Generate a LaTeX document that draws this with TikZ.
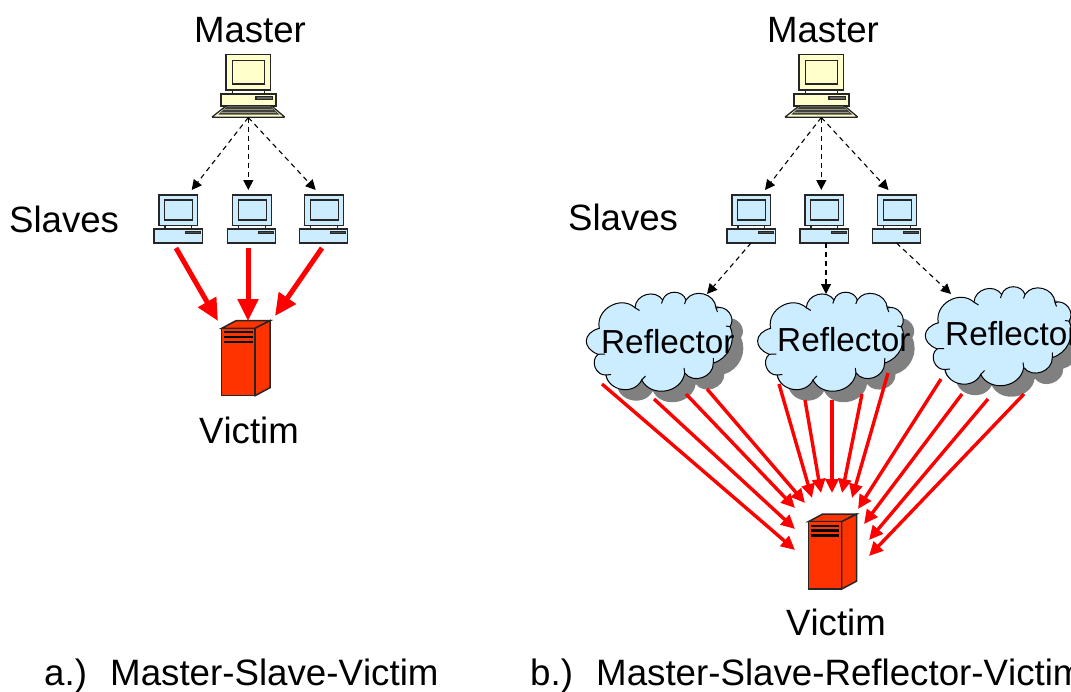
\documentclass[tikz,border=0pt]{standalone}
\usepackage{fontspec}
\setmainfont[Kerning=Off]{Liberation Sans}
\usetikzlibrary{arrows.meta}

\definecolor{pcyellow}{HTML}{FFFFCC}
\definecolor{pcblue}{HTML}{CCECFF}
\definecolor{srvred}{HTML}{FF3300}

\newcommand{\cloudshape}{(-60.7,-16.7) to[lobe] (-25,-37.3) to[lobe] (2.7,-45)
  to[lobe] (26,-45) to[lobe] (56,-37) to[lobe] (70,-18.3)
  to[bend left=50] (53.3,18) to[lobe] (24.7,28) to[lobe] (-18.3,35)
  to[lobe] (-54,30) to[lobe] (-62,9.3) to[lobe,looseness=1.7] cycle}

\tikzset{
  lobe/.style={bend left=72,looseness=1.2},
  lbl/.style={font=\fontsize{36.6}{40}\selectfont,inner sep=0pt,anchor=base},
  captxt/.style={font=\fontsize{36.7}{40}\selectfont,inner sep=0pt,anchor=base west},
  refl/.style={font=\fontsize{33.3}{40}\selectfont,inner sep=0pt,anchor=base west},
  dasharrow/.style={line width=1.1pt,dash pattern=on 5pt off 4pt,-{Triangle[length=10pt,width=10pt]}},
  thickred/.style={red,line width=5pt,-{Triangle[length=22pt,width=20pt]}},
  thinred/.style={red,line width=3.4pt,-{Triangle[length=14pt,width=13pt]}},
  pc/.style={draw=black!85,line width=1.3pt},
  master/.pic={
    \draw[pc,fill=pcyellow] (-22.3,-39.3) rectangle (22.3,-4);
    \draw[pc,fill=pcyellow] (-15.6,-33.3) rectangle (16,-10);
    \draw[pc] (-15.6,-4) -- (-15.6,0) (16,-4) -- (16,0);
    \draw[pc,fill=pcyellow] (-27.3,0) rectangle (27.7,12);
    \draw[pc,fill=black!60] (7.7,2.7) rectangle (24.4,5.3);
    \draw[pc,fill=pcyellow,rounded corners=1pt] (-22.3,12) -- (23.4,12) -- (36.7,23.3) -- (-36.6,23.3) -- cycle;
    \fill[black!75] (-21.5,12.5) -- (22.5,12.5) -- (31,20.5) -- (-30,20.5) -- cycle;
    \draw[pcyellow!60!black,line width=.6pt] (-24,15.5) -- (25,15.5) (-27,18) -- (28,18);
    \coordinate (-out) at (0,23.5);
  },
  slave/.pic={
    \draw[pc,fill=pcblue] (-19,-34) rectangle (19.7,-3.4);
    \draw[pc,fill=pcblue] (-13.3,-29) rectangle (14.7,-9);
    \draw[pc] (-13,-3.4) -- (-13,0) (13.7,-3.4) -- (13.7,0);
    \draw[pc,fill=pcblue] (-24,0) rectangle (24.3,14);
    \draw[pc,fill=black!70,line width=.6pt] (7,2.2) rectangle (22,4);
    \coordinate (-out) at (0,14);
  },
  server/.pic={
    \draw[pc,line width=1.5pt,fill=srvred] (0,0) -- (14.3,-7.6) -- (48.3,-7.6) -- (33.3,0) -- cycle;
    \draw[pc,line width=1.5pt,fill=srvred] (33.3,0) -- (48.3,-7.6) -- (48.3,59.4) -- (33.3,67.4) -- cycle;
    \draw[pc,line width=1.5pt,fill=srvred] (0,0) rectangle (33.3,67.4);
    \foreach \sy in {4,8.7,13.7}
      \draw[black,line width=2.2pt] (2.3,\sy) -- (31,\sy);
  },
  cloud/.pic={
    \fill[black!50,shift={(11,11)}] \cloudshape;
    \draw[black,line width=1pt,fill=pcblue] \cloudshape;
    \draw[black,line width=1pt] (-25,-37.3) -- (-20.5,-34.5) (2.7,-45) -- (1.5,-41.5) (26,-45) -- (24.5,-41)
      (56,-37) -- (57.5,-33) (70,-18.3) -- (66,-19) (53.3,18) -- (53.5,13) (24.7,28) -- (24,23)
      (-18.3,35) -- (-14.5,31) (-54,30) -- (-49,29.5) (-62,9.3) -- (-55,9);
  }
}

\begin{document}
\begin{tikzpicture}[x=1pt,y=-1pt]
  \clip (0,0) rectangle (1071,691);

  % a.) left part
  \pic (m1) at (248.3,94) {master};
  \pic (s1a) at (178,229) {slave};
  \pic (s1b) at (251.5,229) {slave};
  \pic (s1c) at (323.5,229) {slave};
  \pic (v1) at (221.7,328.3) {server};

  \coordinate (s1ain) at (191.7,190);
  \coordinate (s1bin) at (248.3,190);
  \coordinate (s1cin) at (315.7,190);
  \draw[dasharrow] (m1-out) -- (s1ain);
  \draw[dasharrow] (m1-out) -- (s1bin);
  \draw[dasharrow] (m1-out) -- (s1cin);

  \coordinate (r1afrom) at (176,248);
  \coordinate (r1bfrom) at (248,248);
  \coordinate (r1cfrom) at (322,248);
  \coordinate (r1ato) at (218,321);
  \coordinate (r1bto) at (248,321);
  \coordinate (r1cto) at (275,316);
  \draw[thickred] (r1afrom) -- (r1ato);
  \draw[thickred] (r1bfrom) -- (r1bto);
  \draw[thickred] (r1cfrom) -- (r1cto);

  \node[lbl] (lm1) at (250,42) {Master};
  \node[lbl,anchor=base west] (ls1) at (9,232) {Slaves};
  \node[lbl] (lv1) at (249,443) {Victim};
  \node[captxt] (ca) at (44,685) {a.)};
  \node[captxt] (cat) at (110,685) {Master-Slave-Victim};

  % b.) right part
  \pic (m2) at (821.3,94) {master};
  \pic (s2a) at (751,229) {slave};
  \pic (s2b) at (824,229) {slave};
  \pic (s2c) at (896.5,229) {slave};
  \pic (c1) at (660,345) {cloud};
  \pic (c2) at (831.3,345) {cloud};
  \pic (c3) at (999,339.5) {cloud};
  \pic (v2) at (808.3,521.7) {server};

  \coordinate (s2ain) at (765,190);
  \coordinate (s2bin) at (821.3,190);
  \coordinate (s2cin) at (888.5,190);
  \draw[dasharrow] (m2-out) -- (s2ain);
  \draw[dasharrow] (m2-out) -- (s2bin);
  \draw[dasharrow] (m2-out) -- (s2cin);

  \coordinate (s2bout) at (826,243);
  \coordinate (c1in) at (707,294);
  \coordinate (c2in) at (826,294);
  \coordinate (c3in) at (951,294);
  \draw[dasharrow] (s2a-out) -- (c1in);
  \draw[dasharrow] (s2bout) -- (c2in);
  \draw[dasharrow] (s2c-out) -- (c3in);

  \foreach \n/\x/\y in {1/602/384,2/654/399,3/686/394,4/707/389,5/779/384,6/805/400,7/832/400,
                        8/862/394,9/888/373,10/941/379,11/962/394,12/988/399,13/1024/394}
    \coordinate (rf\n) at (\x,\y);
  \foreach \n/\x/\y in {1/795/550,2/795/529,3/795/508,4/805/503,5/812/498,6/821/493,7/832/493,
                        8/842/493,9/852/498,10/858/509,11/864/524,12/869/540,13/869/556}
    \coordinate (rt\n) at (\x,\y);
  \foreach \n in {1,...,13}
    \draw[thinred] (rf\n) -- (rt\n);

  \node[refl] (lc1) at (601,353) {Reflector};
  \node[refl] (lc2) at (777,351) {Reflector};
  \node[refl] (lc3) at (945,345) {Reflector};

  \node[lbl] (lm2) at (823,42) {Master};
  \node[lbl,anchor=base west] (ls2) at (568,230) {Slaves};
  \node[lbl] (lv2) at (836,635) {Victim};
  \node[captxt] (cb) at (530,685) {b.)};
  \node[captxt] (cbt) at (596,685) {Master-Slave-Reflector-Victim};
\end{tikzpicture}
\end{document}
